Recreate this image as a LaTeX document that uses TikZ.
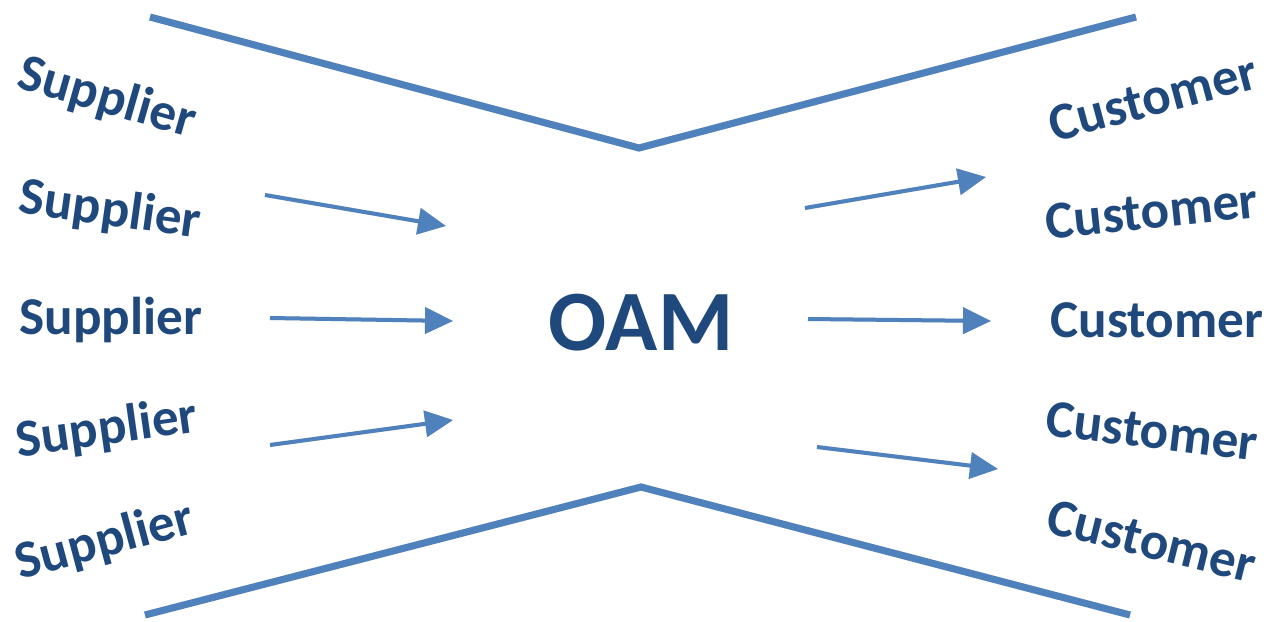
\documentclass[tikz,border=0pt]{standalone}
\usepackage{fontspec}
\setmainfont{Carlito}
\usetikzlibrary{arrows.meta}
\definecolor{txtblue}{HTML}{1F497D}
\definecolor{lineblue}{HTML}{4F81BD}
\begin{document}
\begin{tikzpicture}[x=0.5pt,y=-0.5pt,
  lbl/.style={font=\fontsize{26.6pt}{30pt}\selectfont\bfseries, text=txtblue, inner sep=0pt},
  funnel/.style={draw=lineblue, line width=3.5pt},
  shadowline/.style={draw=black!18, line width=3.5pt},
  flow/.style={draw=lineblue, line width=2pt, -{Triangle[length=14pt,width=13pt]}},
  flowshadow/.style={draw=black!15, line width=2pt, -{Triangle[length=14pt,width=13pt]}}]
\useasboundingbox (0,0) rectangle (1268,621);
% funnel corners
\coordinate (tl) at (150,17);
\coordinate (tm) at (639,148);
\coordinate (tr) at (1136,17);
\coordinate (bl) at (145,615);
\coordinate (bm) at (641,487);
\coordinate (br) at (1130,615);
\begin{scope}[shift={(2,4)}]
\draw[shadowline] (tl) -- (tm) -- (tr);
\draw[shadowline] (bl) -- (bm) -- (br);
\end{scope}
\draw[funnel] (tl) -- (tm) -- (tr);
\draw[funnel] (bl) -- (bm) -- (br);
% labels
\node[lbl, rotate=-16] (s1) at (107,99) {Supplier};
\node[lbl, rotate=-8] (s2) at (110,211) {Supplier};
\node[lbl] (s3) at (111,320) {Supplier};
\node[lbl, rotate=8] (s4) at (107,430) {Supplier};
\node[lbl, rotate=15] (s5) at (105,542) {Supplier};
\node[lbl, rotate=15] (c1) at (1153,98) {Customer};
\node[lbl, rotate=6] (c2) at (1152,211) {Customer};
\node[lbl] (c3) at (1157,320) {Customer};
\node[lbl, rotate=-7] (c4) at (1152,431) {Customer};
\node[lbl, rotate=-14] (c5) at (1152,541) {Customer};
\node[font=\fontsize{43pt}{48pt}\selectfont\bfseries, text=txtblue, inner sep=0pt] (oam) at (641,323) {OAM};
% arrow ends
\coordinate (a1s) at (265,195); \coordinate (a1e) at (446,226);
\coordinate (a2s) at (270,318); \coordinate (a2e) at (453,321);
\coordinate (a3s) at (270,445); \coordinate (a3e) at (453,420);
\coordinate (a4s) at (805,208); \coordinate (a4e) at (986,177);
\coordinate (a5s) at (808,319); \coordinate (a5e) at (991,321);
\coordinate (a6s) at (817,447); \coordinate (a6e) at (998,469);
\begin{scope}[shift={(2,4)}]
\foreach \i in {1,...,6} \draw[flowshadow] (a\i s) -- (a\i e);
\end{scope}
\foreach \i in {1,...,6} \draw[flow] (a\i s) -- (a\i e);
\end{tikzpicture}
\end{document}
